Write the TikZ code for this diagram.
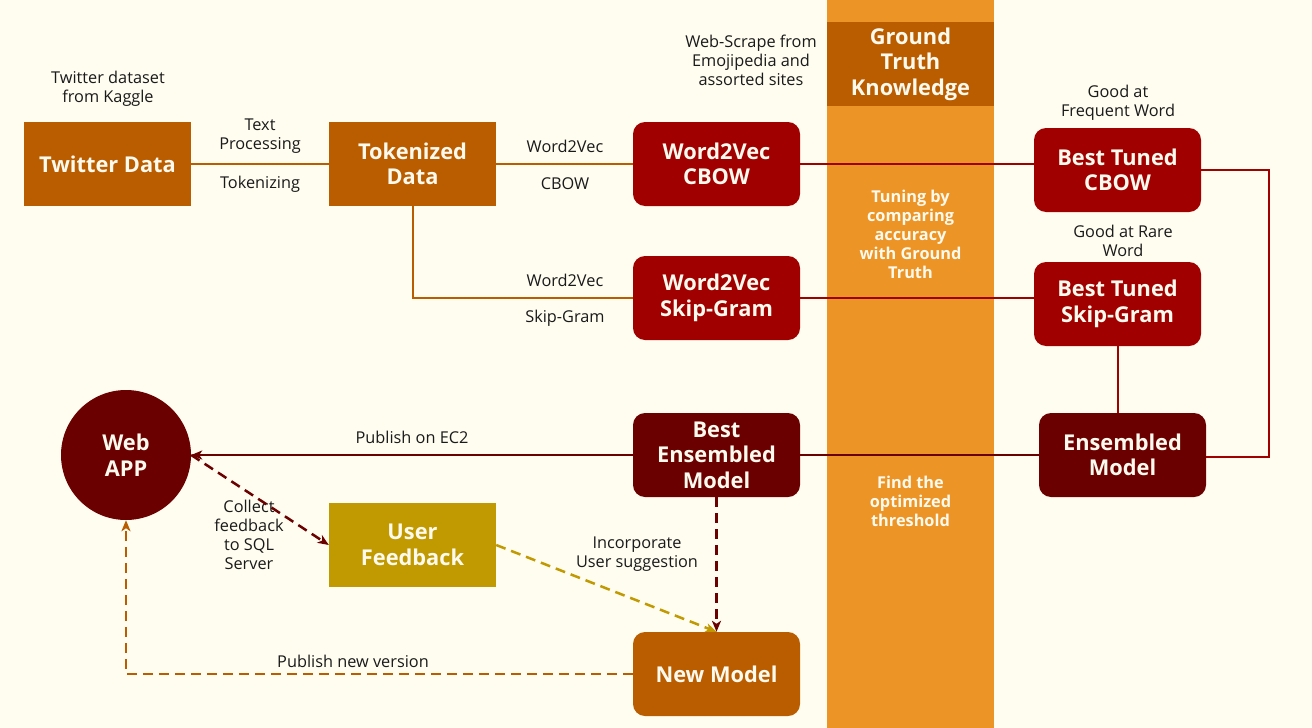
\documentclass[tikz,border=0pt]{standalone}
\usepackage{fontspec}
\setmainfont{Open Sans}
\usetikzlibrary{arrows.meta,positioning}
\definecolor{bg}{HTML}{FFFCF0}
\definecolor{orng}{HTML}{B95D00}
\definecolor{stripe}{HTML}{EC9426}
\definecolor{rd}{HTML}{A00000}
\definecolor{drd}{HTML}{6B0000}
\definecolor{gold}{HTML}{C19900}
\definecolor{wt}{HTML}{FFFAEE}
\definecolor{ink}{HTML}{1A1A1A}
\tikzset{
  box/.style={minimum width=167pt, minimum height=84pt, inner sep=0pt, align=center,
    text=wt, font=\bfseries\fontsize{21.8}{25.5}\selectfont},
  sqbox/.style={box},
  rbox/.style={box, rounded corners=12pt},
  lbl/.style={align=center, text=ink, inner sep=0pt, font=\fontsize{16.3}{19}\selectfont},
  slbl/.style={align=center, text=wt, inner sep=0pt, font=\bfseries\fontsize{16.3}{19}\selectfont},
  conn/.style={line width=2pt},
  tip/.style={-{Stealth[length=11pt,width=9pt,inset=3pt]}},
  dsh/.style={dash pattern=on 10pt off 6pt, line width=2.5pt},
}
\begin{document}
\begin{tikzpicture}[x=1pt,y=-1pt]
\useasboundingbox (0,0) rectangle (1312,728);
\fill[bg] (0,0) rectangle (1312,728);
% ground truth stripe
\fill[stripe] (827,0) rectangle (994,728);
\node[sqbox, fill=orng] (gt) at (910.5,64) {Ground\\Truth\\Knowledge};
\node[slbl] (tune) at (910.5,234) {Tuning by\\comparing\\accuracy\\with Ground\\Truth};
\node[slbl] (thr) at (910.5,501) {Find the\\optimized\\threshold};

% nodes
\node[sqbox, fill=orng] (tw) at (107.5,164) {Twitter Data};
\node[sqbox, fill=orng] (tok) at (412.5,164) {Tokenized\\Data};
\node[rbox, fill=rd] (cbow) at (716.5,164) {Word2Vec\\CBOW};
\node[rbox, fill=rd] (skip) at (716.5,298) {Word2Vec\\Skip-Gram};
\node[rbox, fill=rd] (btc) at (1117.5,170) {Best Tuned\\CBOW};
\node[rbox, fill=rd] (bts) at (1117.5,304) {Best Tuned\\Skip-Gram};
\node[rbox, fill=drd] (ens) at (1122.5,455) {Ensembled\\Model};
\node[rbox, fill=drd] (bem) at (716.5,455) {Best\\Ensembled\\Model};
\node[circle, fill=drd, minimum size=130pt, inner sep=0pt, align=center, text=wt,
  font=\bfseries\fontsize{21.8}{25.5}\selectfont] (web) at (126,455) {Web\\APP};
\node[sqbox, fill=gold] (uf) at (412.5,545) {User\\Feedback};
\node[rbox, fill=orng] (nm) at (716.5,674) {New Model};

% labels
\node[lbl] (kag) at (108,89) {Twitter dataset\\from Kaggle};
\node[lbl] (txtp) at (260,136) {Text\\Processing};
\node[lbl] (tokz) at (260,184) {Tokenizing};
\node[lbl] (w2a) at (565,146) {Word2Vec};
\node[lbl] (cbl) at (565,184) {CBOW};
\node[lbl] (w2b) at (565,280) {Word2Vec};
\node[lbl] (sgl) at (565,318) {Skip-Gram};
\node[lbl] (ws) at (751,60) {Web-Scrape from\\Emojipedia and\\assorted sites};
\node[lbl] (gfw) at (1118,103) {Good at\\Frequent Word};
\node[lbl] (grw) at (1123,241) {Good at Rare\\Word};
\node[lbl] (ec2) at (412,437) {Publish on EC2};
\node[lbl] (col) at (249,535) {Collect\\feedback\\to SQL\\Server};
\node[lbl] (inc) at (637,554) {Incorporate\\User suggestion};
\node[lbl] (pnv) at (353,661) {Publish new version};

% connectors
\draw[conn, orng] (tw.east) -- (tok.west);
\draw[conn, orng] (tok.east) -- (cbow.west);
\draw[conn, orng] (tok.south) -- (tok.south |- skip.west) -- (skip.west);
\draw[conn, rd] (cbow.east) -- (cbow.east -| btc.west);
\draw[conn, rd] (skip.east) -- (skip.east -| bts.west);
\coordinate (rc1) at (1269,170);
\coordinate (rc2) at (1269,457);
\draw[conn, rd] (btc.east) -- (rc1) -- (rc2) -- (rc2 -| ens.east);
\draw[conn, rd] (bts.south) -- (bts.south |- ens.north);
\draw[conn, drd] (ens.west) -- (bem.east);
\draw[conn, drd, tip] (bem.west) -- (web.east);
\draw[dsh, drd, tip] (web.east) -- (uf.west);
\draw[dsh, gold, tip] (uf.east) -- (nm.north);
\draw[dsh, drd, tip] (bem.south) -- (nm.north);
\draw[dsh, orng, tip] (nm.west) -- (web.south |- nm.west) -- (web.south);
\end{tikzpicture}
\end{document}
